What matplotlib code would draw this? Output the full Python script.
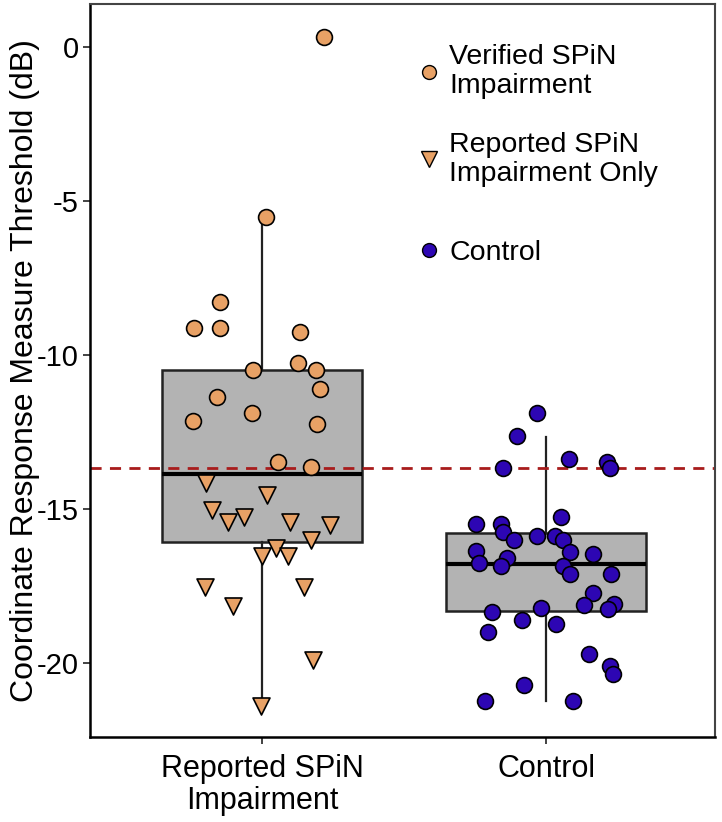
import matplotlib
matplotlib.use("Agg")
import numpy as np
import matplotlib.pyplot as plt
from matplotlib.lines import Line2D

plt.rcParams["font.family"] = ["Liberation Sans", "DejaVu Sans"]

# --- dados ---
grupos = ["Reported SPiN\nImpairment", "Control"]

verificado_y = [0.33, -5.51, -8.27, -9.13, -9.13, -9.26, -10.25, -10.49,
                -10.49, -11.11, -11.35, -12.13, -11.87, -12.24, -13.48, -13.63]
verificado_jit = [0.217, 0.014, -0.148, -0.239, -0.148, 0.134, 0.128, -0.033,
                  0.19, 0.205, -0.16, -0.245, -0.034, 0.193, 0.055, 0.173]

reportado_y = [-14.17, -14.55, -15.03, -15.41, -15.27, -15.41, -15.52, -16.01,
               -16.28, -16.53, -16.53, -17.52, -17.52, -18.15, -19.90, -21.40]
reportado_jit = [-0.198, 0.019, -0.178, -0.119, -0.063, 0.099, 0.24, 0.172,
                 0.049, -0.001, 0.091, -0.201, 0.146, -0.101, 0.181, -0.004]

controle_y = [-11.87, -12.62, -13.37, -13.46, -13.68, -13.68, -15.25, -15.49,
              -15.49, -15.76, -16.01, -15.87, -15.87, -16.01, -16.39, -16.35,
              -16.60, -16.74, -16.85, -16.85, -16.47, -17.11, -17.11, -17.74,
              -18.12, -18.08, -18.25, -18.35, -18.22, -18.60, -18.73, -18.98,
              -19.72, -20.09, -20.36, -20.71, -21.23, -21.23]
controle_jit = [-0.033, -0.104, 0.081, 0.214, 0.224, -0.153, 0.052, -0.247,
                -0.157, -0.151, -0.112, -0.031, 0.032, 0.058, 0.085, -0.247,
                -0.137, -0.236, -0.16, 0.061, 0.165, 0.085, 0.23, 0.167,
                0.135, 0.238, 0.218, -0.192, -0.018, -0.084, 0.035, -0.204,
                0.152, 0.224, 0.236, -0.077, -0.216, 0.096]

# estatísticas das caixas (q1, mediana, q3, bigodes)
caixa_q1 = [-16.06, -18.31]
caixa_med = [-13.86, -16.80]
caixa_q3 = [-10.49, -15.79]
bigode_baixo = [-21.40, -21.22]
bigode_alto = [-5.51, -12.65]

limiar = -13.68

cor_laranja = "#E8A165"
cor_azul = "#2D06B3"

fig = plt.figure(figsize=(7.22, 8.22), dpi=100)
ax = fig.add_axes([0.1247, 0.1028, 0.8656, 0.8929])

stats = []
for i in range(2):
    stats.append(dict(q1=caixa_q1[i], med=caixa_med[i], q3=caixa_q3[i],
                      whislo=bigode_baixo[i], whishi=bigode_alto[i], fliers=[]))
ax.bxp(stats, positions=[1, 2], widths=0.704, showcaps=False,
       patch_artist=True, zorder=1,
       boxprops=dict(facecolor="#B3B3B3", edgecolor="#222222", linewidth=1.8),
       medianprops=dict(color="black", linewidth=3),
       whiskerprops=dict(color="#222222", linewidth=1.6))

ax.axhline(limiar, color="#A81C1C", linestyle=(0, (4, 3)), linewidth=2, zorder=2)

ax.scatter(1 + np.array(verificado_jit), verificado_y, s=130, marker="o",
           facecolor=cor_laranja, edgecolor="black", linewidth=1.2, zorder=3)
ax.scatter(1 + np.array(reportado_jit), reportado_y, s=150, marker="v",
           facecolor=cor_laranja, edgecolor="black", linewidth=1.2, zorder=3)
ax.scatter(2 + np.array(controle_jit), controle_y, s=130, marker="o",
           facecolor=cor_azul, edgecolor="black", linewidth=1.2, zorder=3)

ax.set_xlim(0.394, 2.595)
ax.set_ylim(-22.42, 1.41)
ax.set_xticks([1, 2])
ax.set_xticklabels(grupos, fontsize=22, linespacing=1.08)
ax.set_yticks([0, -5, -10, -15, -20])
ax.set_yticklabels(["0", "-5", "-10", "-15", "-20"], fontsize=21)
ax.set_ylabel("Coordinate Response Measure Threshold (dB)", fontsize=23, labelpad=-2)
ax.tick_params(direction="out", length=5, width=1.2, color="#222222")
ax.tick_params(axis="x", pad=7)
ax.tick_params(axis="y", pad=3)

for lado in ["left", "bottom"]:
    ax.spines[lado].set_color("black")
    ax.spines[lado].set_linewidth(1.8)
for lado in ["top", "right"]:
    ax.spines[lado].set_color("#444444")
    ax.spines[lado].set_linewidth(1.5)

# legenda em duas partes para reproduzir o espaçamento do original
h_verif = Line2D([], [], marker="o", linestyle="none", markersize=10,
                 markerfacecolor=cor_laranja, markeredgecolor="black")
h_report = Line2D([], [], marker="v", linestyle="none", markersize=11,
                  markerfacecolor=cor_laranja, markeredgecolor="black")
h_ctrl = Line2D([], [], marker="o", linestyle="none", markersize=10,
                markerfacecolor=cor_azul, markeredgecolor="black")

leg1 = ax.legend([h_verif, h_report],
                 ["Verified SPiN\nImpairment", "Reported SPiN\nImpairment Only"],
                 loc="upper left", bbox_to_anchor=(0.497, 0.96),
                 frameon=False, fontsize=20.5, labelspacing=1.14, handletextpad=0.1,
                 handlelength=1.2, borderaxespad=0)
for t in leg1.get_texts():
    t.set_linespacing(1.15)
ax.add_artist(leg1)

ax.legend([h_ctrl], ["Control"], loc="center left", bbox_to_anchor=(0.497, 0.66),
          frameon=False, fontsize=20.5, handletextpad=0.1, handlelength=1.2,
          borderaxespad=0)

fig.savefig("out.png", dpi=100)
